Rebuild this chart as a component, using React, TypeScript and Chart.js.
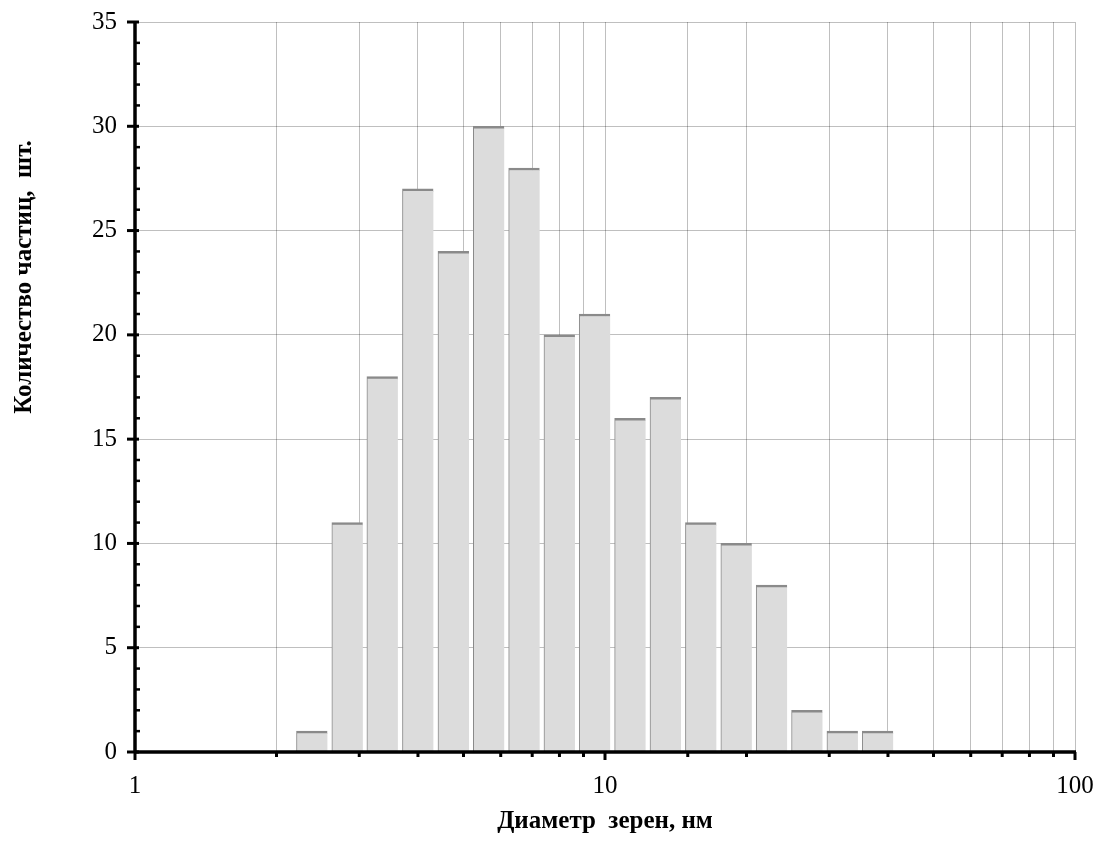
import React, { useEffect, useRef } from 'react';
import { Chart, registerables } from 'chart.js';

Chart.register(...registerables);

// Bin centres (nm), log-spaced bins
const diameters = [2.38, 2.83, 3.36, 4.0, 4.76, 5.66, 6.73, 8.0, 9.51, 11.31, 13.45, 16.0, 19.03, 22.63, 26.91, 32.0, 38.05];
// Particle counts per bin
const counts = [1, 11, 18, 27, 24, 30, 28, 20, 21, 16, 17, 11, 10, 8, 2, 1, 1];
// Tick labels shown on the axes
const xLabelValues = [1, 10, 100];
const yMin = 0;
const yMax = 35;
const yStep = 5;
const xTitle = 'Диаметр  зерен, нм';
const yTitle = 'Количество частиц,  шт.';

const SERIF = '"Liberation Serif", "Times New Roman", serif';

const axesPlugin = {
  id: 'axesPlugin',
  afterDraw(chart: any) {
    const { ctx, chartArea, scales } = chart;
    const xs = scales.x;
    const ys = scales.y;
    ctx.save();
    ctx.strokeStyle = '#000';
    ctx.fillStyle = '#000';
    // y axis line
    ctx.lineWidth = 3.5;
    ctx.beginPath();
    ctx.moveTo(chartArea.left, chartArea.top - 1);
    ctx.lineTo(chartArea.left, chartArea.bottom + 1);
    ctx.stroke();
    // x axis line
    ctx.beginPath();
    ctx.moveTo(chartArea.left - 1, chartArea.bottom);
    ctx.lineTo(chartArea.right + 1, chartArea.bottom);
    ctx.stroke();
    // y ticks: minor every 1, major every 5
    for (let v = yMin; v <= yMax; v += 1) {
      const py = ys.getPixelForValue(v);
      ctx.beginPath();
      if (v % yStep === 0) {
        ctx.lineWidth = 3;
        ctx.moveTo(chartArea.left - 8, py);
        ctx.lineTo(chartArea.left + 4, py);
      } else {
        ctx.lineWidth = 2.5;
        ctx.moveTo(chartArea.left, py);
        ctx.lineTo(chartArea.left + 5, py);
      }
      ctx.stroke();
    }
    // x ticks at every log tick
    xs.ticks.forEach((t: any) => {
      const px = xs.getPixelForValue(t.value);
      const major = xLabelValues.includes(t.value);
      ctx.beginPath();
      ctx.lineWidth = 3;
      ctx.moveTo(px, chartArea.bottom);
      ctx.lineTo(px, chartArea.bottom + (major ? 8 : 5));
      ctx.stroke();
    });
    // y title
    ctx.translate(25, chartArea.top + 255);
    ctx.rotate(-Math.PI / 2);
    ctx.font = `bold 25px ${SERIF}`;
    ctx.textAlign = 'center';
    ctx.textBaseline = 'middle';
    ctx.fillText(yTitle, 0, 0);
    ctx.restore();
  },
};

export default function App() {
  const ref = useRef<HTMLCanvasElement>(null);
  useEffect(() => {
    if (!ref.current) return;
    const chart = new Chart(ref.current, {
      type: 'bar',
      data: {
        datasets: [
          {
            data: diameters.map((d, i) => ({ x: d, y: counts[i] })),
            backgroundColor: '#dcdcdc',
            borderColor: '#8a8a8a',
            borderWidth: { top: 2.5, left: 1, right: 0, bottom: 0 },
            borderSkipped: false,
            barThickness: 31,
          } as any,
        ],
      },
      options: {
        animation: false,
        responsive: false,
        layout: { padding: { top: 22, right: 27, left: 0, bottom: 0 } },
        plugins: { legend: { display: false }, tooltip: { enabled: false } },
        scales: {
          x: {
            type: 'logarithmic',
            min: 1,
            max: 100,
            offset: false,
            border: { display: false },
            grid: { color: 'rgba(0,0,0,0.25)', lineWidth: 1, drawTicks: false, offset: false },
            ticks: {
              autoSkip: false,
              maxRotation: 0,
              padding: 19,
              color: '#000',
              font: { family: SERIF, size: 25 },
              callback: (v: any) => (xLabelValues.includes(Number(v)) ? String(v) : ''),
            },
            title: {
              display: true,
              text: xTitle,
              color: '#000',
              font: { family: SERIF, size: 25, weight: 'bold' },
              padding: { top: 0, bottom: 6 },
            },
            afterFit: (s: any) => {
              s.height = 91;
              s.paddingLeft = 0;
              s.paddingRight = 0;
            },
          },
          y: {
            type: 'linear',
            min: yMin,
            max: yMax,
            border: { display: false },
            grid: { color: 'rgba(0,0,0,0.25)', lineWidth: 1, drawTicks: false },
            ticks: {
              stepSize: yStep,
              padding: 18,
              color: '#000',
              font: { family: SERIF, size: 25 },
            },
            afterFit: (s: any) => {
              s.width = 135;
              s.paddingTop = 0;
              s.paddingBottom = 0;
            },
          },
        },
      } as any,
      plugins: [axesPlugin],
    });
    return () => chart.destroy();
  }, []);
  return (
    <div style={{ position: 'absolute', left: 0, top: 0, width: 1102, height: 843, background: '#fff' }}>
      <canvas ref={ref} width={1102} height={843} style={{ display: 'block' }} />
    </div>
  );
}
